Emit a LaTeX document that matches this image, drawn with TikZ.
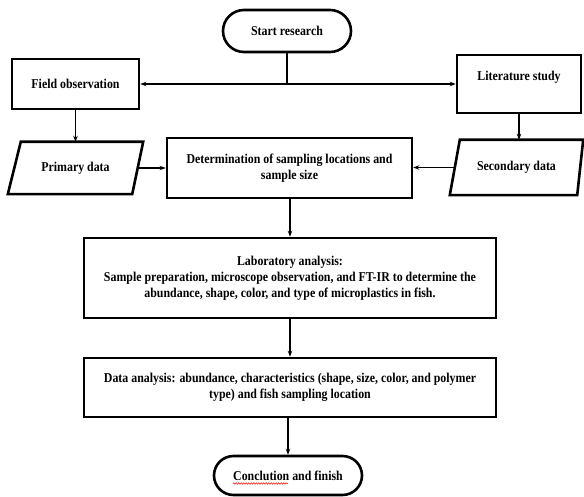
\documentclass[tikz,border=0pt]{standalone}
\usepackage{fontspec}
\setmainfont{Liberation Serif}[FakeStretch=0.88]
\usetikzlibrary{arrows.meta,shapes.misc,decorations.pathmorphing,calc}
\begin{document}
\begin{tikzpicture}[x=1pt,y=-1pt,
  every node/.style={font=\fontsize{13.5}{15.8}\selectfont\bfseries, align=center, inner sep=0pt},
  box/.style={draw, line width=2.6pt, rectangle},
  capsule/.style={draw, line width=2.6pt, rounded rectangle},
  edge/.style={line width=2.6pt, line join=miter},
  conn/.style={line width=1.2pt, -{Stealth[length=6pt,width=4.5pt]}},
  plain/.style={line width=1.2pt}]
\useasboundingbox (0,0) rectangle (584,497);

\node[capsule, minimum width=128, minimum height=42] (start) at (287,31) {Start research};
\node[box, minimum width=127, minimum height=50] (field) at (75.5,84) {Field observation};
\node[box, minimum width=124, minimum height=58] (lit) at (519,84) {Literature study\\\mbox{}};
\node[minimum width=135, minimum height=52] (prim) at (75.5,168) {Primary data};
\node[minimum width=133, minimum height=55] (sec) at (516.5,167.5) {Secondary data};
\draw[edge] (prim.south west) -- ($(prim.south east)+(-11,0)$) -- (prim.north east) -- ($(prim.north west)+(13,0)$) -- cycle;
\draw[edge] (sec.south west) -- ($(sec.south east)+(-6,0)$) -- (sec.north east) -- ($(sec.north west)+(10,0)$) -- cycle;
\coordinate (primR) at ($(prim.east)+(-6,0)$);
\coordinate (secL) at ($(sec.west)+(5,0)$);
\node[box, minimum width=245, minimum height=60] (det) at (289.5,168) {Determination of sampling locations and\\sample size};
\node[box, minimum width=412, minimum height=80] (lab) at (290,278) {Laboratory analysis:\\Sample preparation, microscope observation, and FT-IR to determine the\\abundance, shape, color, and type of microplastics in fish.};
\node[box, minimum width=412, minimum height=59] (data) at (290,387.5) {Data analysis: abundance, characteristics (shape, size, color, and polymer\\type) and fish sampling location};
\node[capsule, minimum width=148, minimum height=39] (conc) at (288,475.5) {Conclution and finish};

\coordinate (j) at (start.south |- field.east);
\draw[plain] (start.south) -- (j);
\draw[conn] (j) -- (field.east);
\draw[conn] (j) -- (lit.west);
\draw[conn] (field.south) -- (field.south |- prim.north);
\draw[conn] (lit.south) -- (lit.south |- sec.north);
\draw[conn] (primR) -- (det.west |- primR);
\draw[conn] (secL) -- (det.east |- secL);
\draw[conn] (det.south -| lab.north) -- (lab.north);
\draw[conn] (lab.south) -- (data.north);
\draw[conn] (data.south -| conc.north) -- (conc.north);

\draw[red, line width=0.5pt, decorate, decoration={snake, amplitude=0.8pt, segment length=2.5pt}]
  ($(conc.center)+(-55,8)$) -- ($(conc.center)+(0,8)$);
\end{tikzpicture}
\end{document}
